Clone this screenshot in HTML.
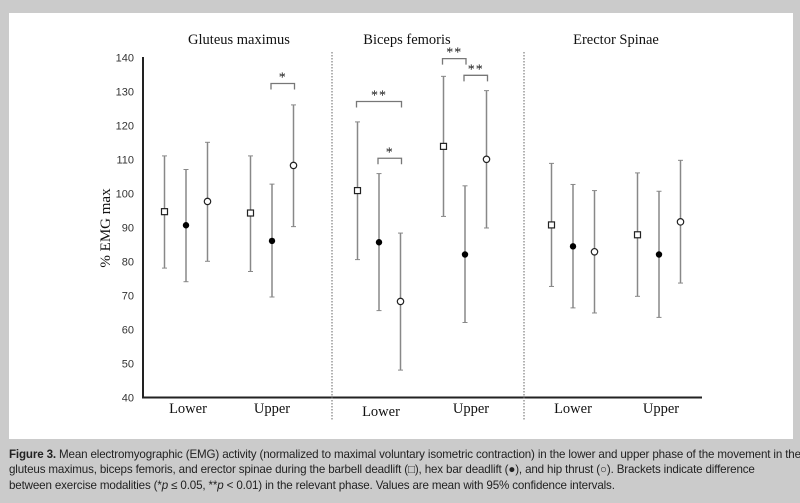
<!DOCTYPE html>
<html><head><meta charset="utf-8"><style>
body{margin:0;width:800px;height:503px;background:#cbcbcb;overflow:hidden;font-family:"Liberation Sans",sans-serif}
#panel{position:absolute;left:9px;top:13px;width:784px;height:426px;background:#fff}
#cap{position:absolute;left:9px;top:447px;font-size:11.6px;line-height:15.3px;color:#222;white-space:nowrap;letter-spacing:-0.15px}
</style></head><body>
<div id="panel"></div>
<svg id="chart" width="800" height="503" style="position:absolute;left:0;top:0"></svg>
<div id="cap"><b>Figure 3.</b> Mean electromyographic (EMG) activity (normalized to maximal voluntary isometric contraction) in the lower and upper phase of the movement in the<br>gluteus maximus, biceps femoris, and erector spinae during the barbell deadlift (□), hex bar deadlift (●), and hip thrust (○). Brackets indicate difference<br>between exercise modalities (*<i>p</i> ≤ 0.05, **<i>p</i> &lt; 0.01) in the relevant phase. Values are mean with 95% confidence intervals.</div>
<script>
const muscles=["Gluteus maximus","Biceps femoris","Erector Spinae"];
const phases=["Lower","Upper"];
const yTicks=[40,50,60,70,80,90,100,110,120,130,140];
// order: muscle-phase groups, each [barbell, hex, hip]
const means=[[94.6,90.6,97.6],[94.2,86,108.2],[100.8,85.6,68.2],[113.8,82,110],[90.7,84.4,82.8],[87.8,82,91.6]];
const lows=[[78,74,80],[77,69.5,90.2],[80.5,65.5,48],[93.2,62,89.8],[72.6,66.3,64.8],[69.7,63.5,73.6]];
const highs=[[111,107,115],[111,102.7,126],[121,105.8,88.3],[134.4,102.2,130.2],[108.8,102.6,100.8],[106,100.6,109.7]];
// brackets: [group, fromSeries, toSeries, level value, label]
const brackets=[[1,1,2,132.3,"*"],[2,0,2,127,"**"],[2,1,2,110.3,"*"],[3,0,1,139.6,"**"],[3,1,2,134.7,"**"]];
const svg=document.getElementById('chart');const NS="http://www.w3.org/2000/svg";
function y(v){return 397.3-(v-40)*3.4;}
const groupCenters=[186,272,379,465,573,659];const off=21.5;
function x(g,s){return groupCenters[g]+(s-1)*off;}
function mk(t,a,txt){const e=document.createElementNS(NS,t);for(const k in a)e.setAttribute(k,a[k]);if(txt!==undefined)e.textContent=txt;svg.appendChild(e);return e;}
let e;
e=mk('line',{x1:143,y1:57,x2:143,y2:397.5,stroke:'#222','stroke-width':2});

e=mk('line',{x1:142,y1:397.5,x2:702,y2:397.5,stroke:'#222','stroke-width':2});

yTicks.forEach(v=>{e=mk('text',{x:134,y:y(v)+4,'text-anchor':'end','font-size':11,fill:'#333','font-family':'Liberation Sans'},v);
});
e=mk('text',{x:0,y:0,transform:'translate(110,228) rotate(-90)','text-anchor':'middle','font-size':15,'font-family':'Liberation Serif',fill:'#111'},'% EMG max');

[332,524].forEach(xx=>{e=mk('line',{x1:xx,y1:52,x2:xx,y2:420,stroke:'#666','stroke-width':1,'stroke-dasharray':'1.5,1.5'});
});
muscles.forEach((m,i)=>{e=mk('text',{x:(groupCenters[2*i]+groupCenters[2*i+1])/2+(i==0?10:(i==1?-15:0)),y:44,'text-anchor':'middle','font-size':14.5,'font-family':'Liberation Serif',fill:'#111'},m);
});
const phaseX=[188,272,381,471,573,661];const phaseY=[413,413,416,413,413,413];
phaseX.forEach((px,i)=>{e=mk('text',{x:px,y:phaseY[i],'text-anchor':'middle','font-size':14.5,'font-family':'Liberation Serif',fill:'#111'},phases[i%2]);
});
means.forEach((grp,g)=>grp.forEach((mv,s)=>{const xx=x(g,s);
e=mk('line',{x1:xx,y1:y(lows[g][s]),x2:xx,y2:y(highs[g][s]),stroke:'#888','stroke-width':1.5});

[lows[g][s],highs[g][s]].forEach(v=>{e=mk('line',{x1:xx-2.5,y1:y(v),x2:xx+2.5,y2:y(v),stroke:'#888','stroke-width':1});
});
if(s==0)e=mk('rect',{x:xx-3,y:y(mv)-3,width:6,height:6,fill:'#fff',stroke:'#222','stroke-width':1.2});
else if(s==1)e=mk('circle',{cx:xx,cy:y(mv),r:3.2,fill:'#000'});
else e=mk('circle',{cx:xx,cy:y(mv),r:3.2,fill:'#fff',stroke:'#222','stroke-width':1.2});
}));
brackets.forEach(b=>{const x1=x(b[0],b[1])-1,x2=x(b[0],b[2])+1,yy=y(b[3]);
e=mk('path',{d:`M${x1},${yy+6}V${yy}H${x2}V${yy+6}`,fill:'none',stroke:'#777','stroke-width':1.3});

e=mk('text',{x:(x1+x2)/2,y:yy-2,'text-anchor':'middle','font-size':14,'font-family':'Liberation Serif',fill:'#111','letter-spacing':'1'},b[4]);
});
</script>
</body></html>
